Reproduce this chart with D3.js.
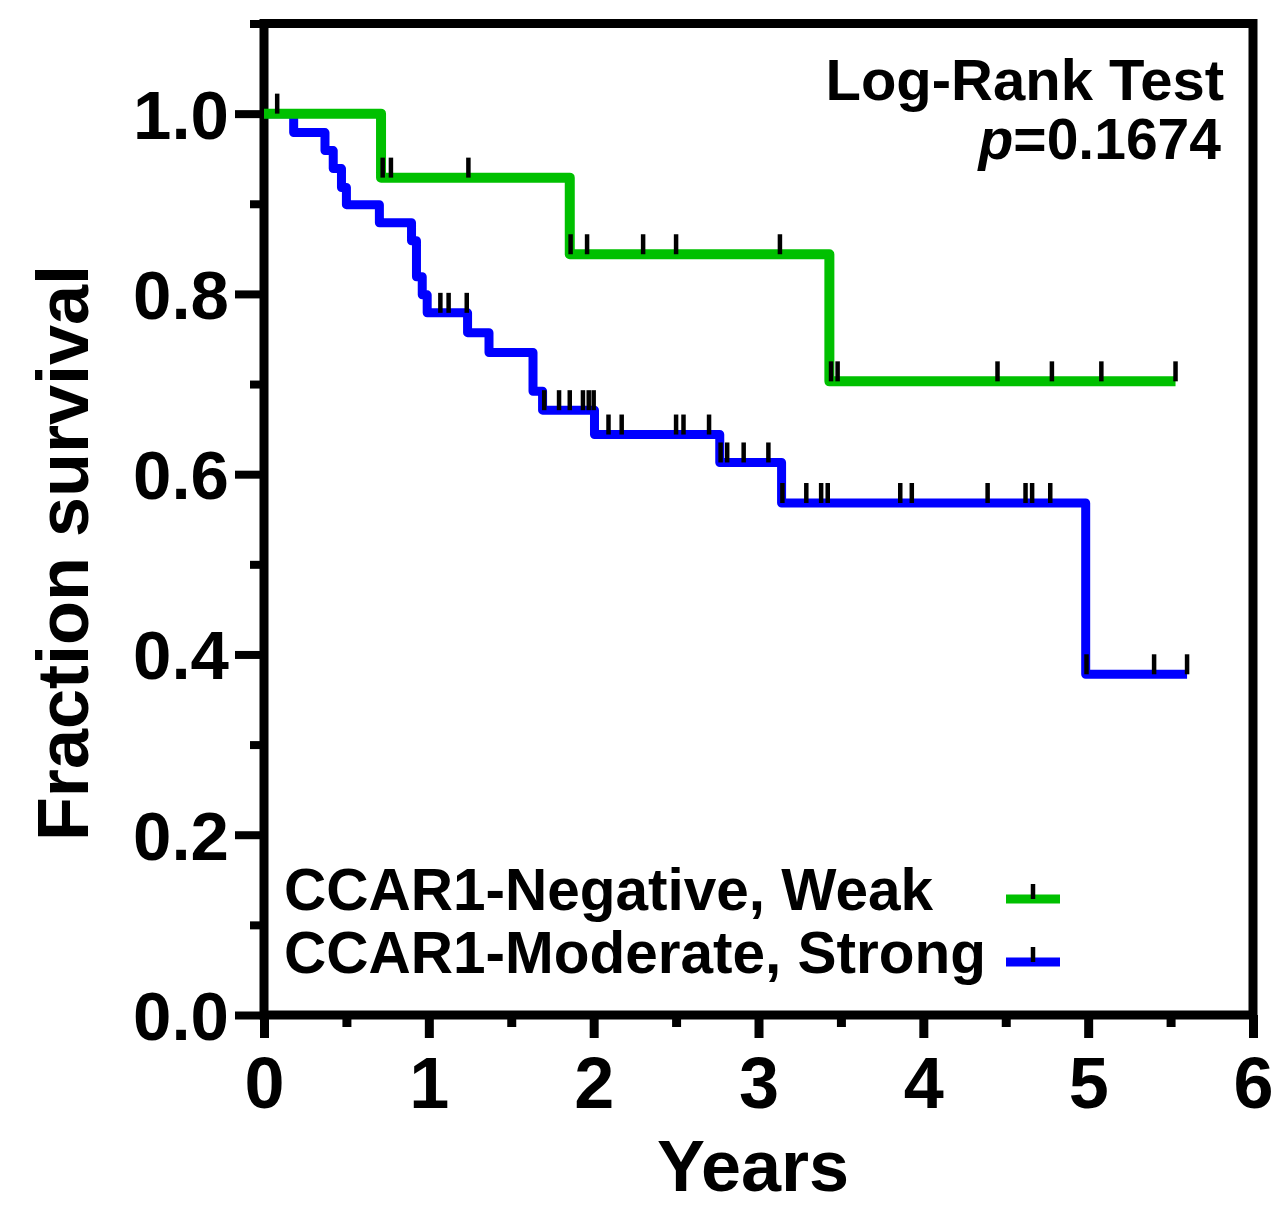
<!DOCTYPE html>
<html>
<head>
<meta charset="utf-8">
<script src="https://cdn.jsdelivr.net/npm/d3@7"></script>
<style>
body { margin: 0; background: #fff; }
text { font-family: "Liberation Sans", Arial, sans-serif; font-weight: bold; fill: #000; }
</style>
</head>
<body>
<svg id="chart"></svg>
<script>
var width = 1278;
var height = 1217;

// Kaplan-Meier steps: time (years) and survival after each drop
var greenTimes = [0, 0.71, 1.855, 3.43];
var greenValues = [1.0, 0.929, 0.844, 0.703];
var greenEnd = 5.53;
var greenCensored = [0.72, 0.77, 1.24, 1.86, 1.96, 2.30, 2.50, 3.13, 3.44, 3.48, 4.45, 4.78, 5.08, 5.53];

var blueTimes = [0, 0.18, 0.37, 0.42, 0.47, 0.50, 0.70, 0.895, 0.925, 0.96, 0.99,
    1.235, 1.365, 1.632, 1.69, 2.005, 2.765, 3.14, 4.985];
var blueValues = [1.0, 0.979, 0.959, 0.939, 0.918, 0.899, 0.879, 0.859, 0.819, 0.799, 0.779,
    0.757, 0.735, 0.692, 0.671, 0.644, 0.613, 0.568, 0.378];
var blueEnd = 5.60;
var blueCensored = [0.08, 1.07, 1.12, 1.23, 1.70, 1.79, 1.855, 1.935, 1.97, 2.00, 2.09, 2.17,
    2.50, 2.545, 2.70, 2.77, 2.81, 2.91, 3.06, 3.145, 3.29, 3.38, 3.42, 3.86, 3.93,
    4.39, 4.62, 4.66, 4.77, 4.99, 5.40, 5.60];

var xMajor = [0, 1, 2, 3, 4, 5, 6];
var xMinor = [0.5, 1.5, 2.5, 3.5, 4.5, 5.5];
var yMajor = [0, 0.2, 0.4, 0.6, 0.8, 1.0];
var yMinor = [0.1, 0.3, 0.5, 0.7, 0.9, 1.1];

var legendLabels = ["CCAR1-Negative, Weak", "CCAR1-Moderate, Strong"];
var green = "#00c000";
var blue = "#0000ff";

var svg = d3.select("#chart").attr("width", width).attr("height", height);

var x = d3.scaleLinear().domain([0, 6]).range([264, 1253]);
var y = d3.scaleLinear().domain([0, 1.1]).range([1015, 23.5]);

function survivalAt(times, values, t) {
    var v = values[0];
    for (var i = 0; i < times.length; i++) {
        if (times[i] <= t) v = values[i];
    }
    return v;
}

function stepPoints(times, values, end) {
    var pts = times.map(function(t, i) { return [t, values[i]]; });
    pts.push([end, values[values.length - 1]]);
    return pts;
}

// axes
function styleAxis(g, w) {
    g.select(".domain").remove();
    g.selectAll(".tick line").attr("stroke", "#000").attr("stroke-width", w);
}

var yAxisMinor = svg.append("g")
    .attr("transform", "translate(" + x(0) + ",0)")
    .call(d3.axisLeft(y).tickValues(yMinor).tickSize(14).tickFormat(""));
styleAxis(yAxisMinor, 8);

var yAxis = svg.append("g")
    .attr("transform", "translate(" + x(0) + ",0)")
    .call(d3.axisLeft(y).tickValues(yMajor).tickSize(29).tickPadding(6).tickFormat(d3.format(".1f")));
styleAxis(yAxis, 8);
yAxis.selectAll(".tick text").attr("font-size", 69).attr("dy", "0.355em");

var xAxisMinor = svg.append("g")
    .attr("transform", "translate(0," + y(0) + ")")
    .call(d3.axisBottom(x).tickValues(xMinor).tickSize(12).tickFormat(""));
styleAxis(xAxisMinor, 9);

var xAxis = svg.append("g")
    .attr("transform", "translate(0," + y(0) + ")")
    .call(d3.axisBottom(x).tickValues(xMajor).tickSize(23).tickPadding(19).tickFormat(d3.format("d")));
styleAxis(xAxis, 9);
xAxis.selectAll(".tick text").attr("font-size", 72);

svg.selectAll(".tick text")
    .attr("font-family", "'Liberation Sans', Arial, sans-serif")
    .attr("font-weight", "bold")
    .attr("fill", "#000");

// frame
svg.append("rect")
    .attr("x", x(0))
    .attr("y", y(1.1))
    .attr("width", x(6) - x(0))
    .attr("height", y(0) - y(1.1))
    .attr("fill", "none")
    .attr("stroke", "#000")
    .attr("stroke-width", 9);

// curves
var line = d3.line()
    .x(function(d) { return x(d[0]); })
    .y(function(d) { return y(d[1]); })
    .curve(d3.curveStepAfter);

var series = [
    {times: blueTimes, values: blueValues, end: blueEnd, censored: blueCensored, color: blue, w: 9},
    {times: greenTimes, values: greenValues, end: greenEnd, censored: greenCensored, color: green, w: 10}
];

series.forEach(function(s) {
    svg.append("path")
        .datum(stepPoints(s.times, s.values, s.end))
        .attr("d", line)
        .attr("fill", "none")
        .attr("stroke", s.color)
        .attr("stroke-width", s.w)
        .attr("stroke-linejoin", "round");
});

series.forEach(function(s) {
    svg.append("g").selectAll("line")
        .data(s.censored)
        .enter().append("line")
        .attr("x1", function(d) { return x(d); })
        .attr("x2", function(d) { return x(d); })
        .attr("y1", function(d) { return y(survivalAt(s.times, s.values, d)); })
        .attr("y2", function(d) { return y(survivalAt(s.times, s.values, d)) - 20; })
        .attr("stroke", "#000")
        .attr("stroke-width", 4.5);
});

// axis titles
svg.append("text")
    .text("Years")
    .attr("x", 753)
    .attr("y", 1191)
    .attr("text-anchor", "middle")
    .attr("font-size", 72);

svg.append("text")
    .text("Fraction survival")
    .attr("transform", "translate(88,553) rotate(-90)")
    .attr("text-anchor", "middle")
    .attr("font-size", 72);

// log-rank annotation
svg.append("text")
    .text("Log-Rank Test")
    .attr("x", 1224)
    .attr("y", 100)
    .attr("text-anchor", "end")
    .attr("font-size", 58);

var pText = svg.append("text")
    .attr("x", 1221)
    .attr("y", 159)
    .attr("text-anchor", "end")
    .attr("font-size", 57);
pText.append("tspan").attr("font-style", "italic").text("p");
pText.append("tspan").text("=0.1674");

// legend
var legend = svg.append("g");
var legendRows = [
    {label: legendLabels[0], color: green, base: 910},
    {label: legendLabels[1], color: blue, base: 973}
];
legendRows.forEach(function(r) {
    legend.append("text")
        .text(r.label)
        .attr("x", 284)
        .attr("y", r.base)
        .attr("font-size", 58.5);
    legend.append("line")
        .attr("x1", 1006).attr("x2", 1060)
        .attr("y1", r.base - 11).attr("y2", r.base - 11)
        .attr("stroke", r.color)
        .attr("stroke-width", 9);
    legend.append("line")
        .attr("x1", 1033).attr("x2", 1033)
        .attr("y1", r.base - 11).attr("y2", r.base - 26)
        .attr("stroke", "#000")
        .attr("stroke-width", 4.5);
});
</script>
</body>
</html>
